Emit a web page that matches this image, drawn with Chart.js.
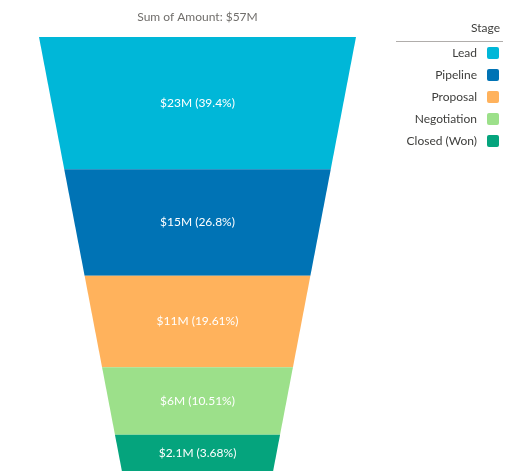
<!DOCTYPE html>
<html><head><meta charset="utf-8">
<script src="https://cdn.jsdelivr.net/npm/chart.js@4"></script>
<style>html,body{margin:0;padding:0;background:#fff}#wrap{width:519px;height:471px}</style>
</head><body><div id="wrap"><canvas id="c"></canvas></div>
<script>
const stages = ["Lead","Pipeline","Proposal","Negotiation","Closed (Won)"];
const amounts = [23,15,11,6,2.1];
const valueLabels = ["$23M","$15M","$11M","$6M","$2.1M"];
const percentLabels = ["39.4%","26.8%","19.61%","10.51%","3.68%"];
const colors = ["#00b7d8","#0073b5","#ffb25c","#9ce08a","#05a47d"];
const titleText = "Sum of Amount: $57M";
const legendTitle = "Stage";

const heights = amounts.map(v => Math.sqrt(v));
const FONT = "Lato, 'Noto Sans', sans-serif";

const funnel = {
  id: 'funnel',
  afterDatasetsDraw(chart) {
    const ctx = chart.ctx, xs = chart.scales.x, ys = chart.scales.y, ca = chart.chartArea;
    const half = y => 1 - 0.0332 * y;
    let acc = 0;
    ctx.save();
    heights.forEach((h, i) => {
      const y0 = acc, y1 = acc + h; acc = y1;
      const py0 = ys.getPixelForValue(y0), py1 = ys.getPixelForValue(y1);
      ctx.beginPath();
      ctx.moveTo(xs.getPixelForValue(-half(y0)), py0);
      ctx.lineTo(xs.getPixelForValue(half(y0)), py0);
      ctx.lineTo(xs.getPixelForValue(half(y1)), py1);
      ctx.lineTo(xs.getPixelForValue(-half(y1)), py1);
      ctx.closePath();
      ctx.fillStyle = colors[i]; ctx.fill();
      const mid = (py0 + Math.min(py1, ca.bottom)) / 2;
      ctx.fillStyle = "#fff"; ctx.font = "12px " + FONT;
      ctx.textAlign = "center"; ctx.textBaseline = "middle";
      ctx.fillText(valueLabels[i] + " (" + percentLabels[i] + ")", xs.getPixelForValue(0), mid);
    });
    ctx.fillStyle = "#706e6b"; ctx.font = "12px " + FONT;
    ctx.fillText(titleText, xs.getPixelForValue(0), 17);
    ctx.textAlign = "right"; ctx.fillStyle = "#3e3e3c";
    ctx.fillText(legendTitle, 500, 28);
    ctx.strokeStyle = "#b0adab"; ctx.lineWidth = 1;
    ctx.beginPath(); ctx.moveTo(396, 41.5); ctx.lineTo(503, 41.5); ctx.stroke();
    stages.forEach((s, i) => {
      const y = 53 + i * 22;
      ctx.fillStyle = "#3e3e3c";
      ctx.fillText(s, 477, y);
      ctx.fillStyle = colors[i];
      ctx.beginPath(); ctx.roundRect(487, y - 6, 12, 12, 2); ctx.fill();
    });
    ctx.restore();
  }
};

new Chart(document.getElementById('c'), {
  type: 'bar',
  data: { labels: [], datasets: [{ data: [] }] },
  options: {
    responsive: true, maintainAspectRatio: false, animation: false,
    layout: { padding: { left: 39, right: 163, top: 37, bottom: 0 } },
    plugins: { legend: { display: false }, tooltip: { enabled: false } },
    scales: {
      x: { type: 'linear', min: -1, max: 1, offset: false, display: false },
      y: { type: 'linear', min: 0, max: 15.75, offset: false, reverse: true, display: false }
    }
  },
  plugins: [funnel]
});
</script></body></html>
